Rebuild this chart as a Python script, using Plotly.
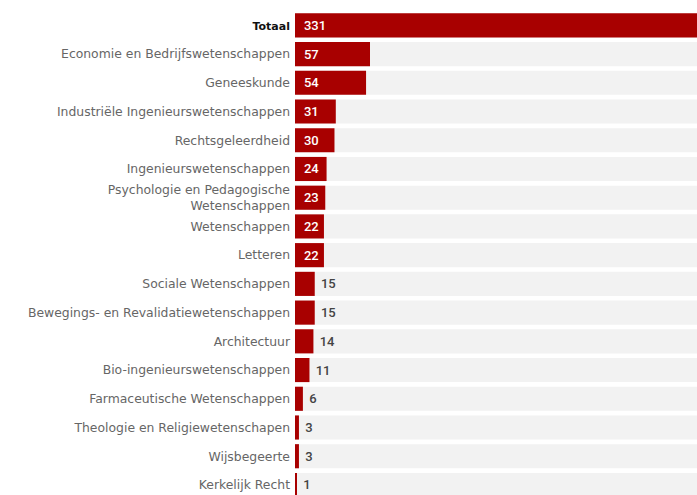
import plotly.graph_objects as go

categories = [
    "Totaal",
    "Economie en Bedrijfswetenschappen",
    "Geneeskunde",
    "Industriële Ingenieurswetenschappen",
    "Rechtsgeleerdheid",
    "Ingenieurswetenschappen",
    "Psychologie en Pedagogische<br>Wetenschappen",
    "Wetenschappen",
    "Letteren",
    "Sociale Wetenschappen",
    "Bewegings- en Revalidatiewetenschappen",
    "Architectuur",
    "Bio-ingenieurswetenschappen",
    "Farmaceutische Wetenschappen",
    "Theologie en Religiewetenschapen",
    "Wijsbegeerte",
    "Kerkelijk Recht",
]
values = [331, 57, 54, 31, 30, 24, 23, 22, 22, 15, 15, 14, 11, 6, 3, 3, 1]
tick_labels = ["<b><span style='color:#111111;font-size:11px'>Totaal</span></b>"] + categories[1:]

RED = "#a80000"
GREY_BG = "#f2f2f2"
INSIDE_MIN = 20

positions = ["inside" if v >= INSIDE_MIN else "outside" for v in values]
text_colors = ["white" if v >= INSIDE_MIN else "#444444" for v in values]
value_text = [("\u00a0\u2009" if v >= INSIDE_MIN else "\u00a0") + str(v) for v in values]

fig = go.Figure()
fig.add_trace(go.Bar(
    y=categories, x=[max(values)] * len(values), orientation="h",
    marker=dict(color=GREY_BG, line=dict(width=0)), hoverinfo="skip", showlegend=False,
))
fig.add_trace(go.Bar(
    y=categories, x=values, orientation="h",
    marker=dict(color=RED, line=dict(width=0)),
    text=value_text, textposition=positions,
    insidetextanchor="start",
    textfont=dict(family="Roboto", size=13, color=text_colors, weight=500),
    cliponaxis=True, showlegend=False,
))

fig.update_layout(
    width=697, height=495,
    margin=dict(l=295, r=0, t=11, b=0),
    barmode="overlay", bargap=0.16,
    plot_bgcolor="white", paper_bgcolor="white",
    font=dict(family="DejaVu Sans", size=12.4, color="#666666"),
    xaxis=dict(range=[0, 305.5], visible=False, showgrid=False, zeroline=False, fixedrange=True),
    yaxis=dict(
        categoryorder="array", categoryarray=categories,
        tickmode="array", tickvals=categories, ticktext=tick_labels,
        range=[16.35, -0.5], showgrid=False, zeroline=False, showline=False,
        ticks="", ticklabelstandoff=4, fixedrange=True,
        tickfont=dict(family="DejaVu Sans", size=12.4, color="#666666"),
    ),
)
fig.write_html(
    "out.html",
    config={"displayModeBar": False},
    post_script="document.body.style.margin='0';document.body.style.overflow='hidden';",
)
